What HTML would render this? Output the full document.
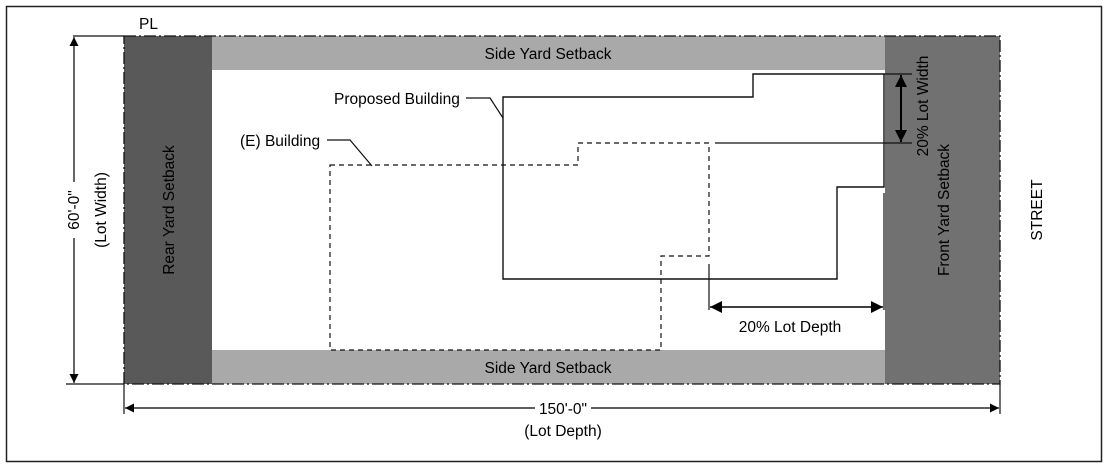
<!DOCTYPE html>
<html><head><meta charset="utf-8"><style>
html,body{margin:0;padding:0;background:#fff;}
svg{display:block;font-family:"Liberation Sans",Arial,sans-serif;}
</style></head><body>
<svg width="1108" height="467" viewBox="0 0 1108 467" xmlns="http://www.w3.org/2000/svg">
<defs>
<marker id="ar" viewBox="0 0 10 10" refX="10" refY="5" markerWidth="9" markerHeight="9" markerUnits="userSpaceOnUse" orient="auto-start-reverse"><path d="M0,0 L10,5 L0,10 z" fill="#000"/></marker>
<marker id="ab" viewBox="0 0 10 10" refX="10" refY="5" markerWidth="12" markerHeight="12" markerUnits="userSpaceOnUse" orient="auto-start-reverse"><path d="M0,0 L10,5 L0,10 z" fill="#000"/></marker>
</defs>
<rect x="6.5" y="6.5" width="1095" height="455" fill="#fff" stroke="#222" stroke-width="1.5"/>
<rect x="212" y="36" width="673" height="34" fill="#a9a9a9"/>
<rect x="212" y="350" width="673" height="34" fill="#a9a9a9"/>
<rect x="124" y="36" width="88" height="348" fill="#595959"/>
<rect x="885" y="36" width="115" height="348" fill="#717171"/>
<rect x="124" y="36" width="876" height="348" fill="none" stroke="#111" stroke-width="1.3" stroke-dasharray="12,3,2,3"/>
<g font-size="15.5">
<text x="139" y="29">PL</text>
<text x="548" y="59" text-anchor="middle">Side Yard Setback</text>
<text x="548" y="373" text-anchor="middle">Side Yard Setback</text>
<text transform="translate(174,210) rotate(-90)" text-anchor="middle">Rear Yard Setback</text>
<text transform="translate(949,210) rotate(-90)" text-anchor="middle">Front Yard Setback</text>
<text transform="translate(1042,210) rotate(-90)" text-anchor="middle">STREET</text>
<text x="334" y="104">Proposed Building</text>
<text x="240" y="146">(E) Building</text>
<text transform="translate(928,106) rotate(-90)" text-anchor="middle">20% Lot Width</text>
<text x="790" y="332" text-anchor="middle">20% Lot Depth</text>
<text transform="translate(79,210) rotate(-90)" text-anchor="middle">60'-0"</text>
<text transform="translate(106,210) rotate(-90)" text-anchor="middle">(Lot Width)</text>
<text x="563" y="414" text-anchor="middle">150'-0"</text>
<text x="563" y="436" text-anchor="middle">(Lot Depth)</text>
</g>
<path d="M330,165 H578 V143 H709 V256 H661 V350 H330 Z" fill="none" stroke="#111" stroke-width="1.2" stroke-dasharray="5,4"/>
<path d="M503,97 H753 V74 H884 V187 H837 V279 H503 Z" fill="none" stroke="#111" stroke-width="1.4"/>
<path d="M466,98 H490 L503,118" fill="none" stroke="#111" stroke-width="1.2"/>
<path d="M327,140 H350 L372,166" fill="none" stroke="#111" stroke-width="1.2"/>
<line x1="884" y1="74" x2="912" y2="74" stroke="#111" stroke-width="1.2"/>
<line x1="715" y1="143" x2="912" y2="143" stroke="#111" stroke-width="1.2"/>
<line x1="901" y1="75" x2="901" y2="142" stroke="#000" stroke-width="2" marker-start="url(#ab)" marker-end="url(#ab)"/>
<line x1="884" y1="193" x2="884" y2="310" stroke="#111" stroke-width="1.2"/>
<line x1="709" y1="264" x2="709" y2="310" stroke="#111" stroke-width="1.2"/>
<line x1="710" y1="307" x2="883" y2="307" stroke="#000" stroke-width="1.6" marker-start="url(#ab)" marker-end="url(#ab)"/>
<line x1="73" y1="36" x2="124" y2="36" stroke="#111" stroke-width="1.2"/>
<line x1="66" y1="384" x2="124" y2="384" stroke="#111" stroke-width="1.2"/>
<line x1="74" y1="37" x2="74" y2="182" stroke="#000" stroke-width="1.2" marker-start="url(#ar)"/>
<line x1="74" y1="238" x2="74" y2="383" stroke="#000" stroke-width="1.2" marker-end="url(#ar)"/>
<line x1="124" y1="384" x2="124" y2="414" stroke="#111" stroke-width="1.2"/>
<line x1="1000" y1="384" x2="1000" y2="414" stroke="#111" stroke-width="1.2"/>
<line x1="125" y1="408" x2="535" y2="408" stroke="#000" stroke-width="1.2" marker-start="url(#ar)"/>
<line x1="591" y1="408" x2="999" y2="408" stroke="#000" stroke-width="1.2" marker-end="url(#ar)"/>
</svg>
</body></html>
